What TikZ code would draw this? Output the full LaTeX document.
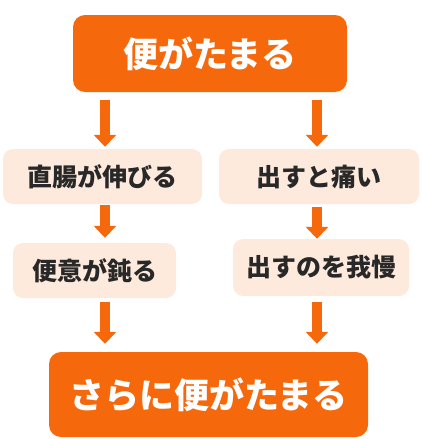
\documentclass[tikz,border=0pt]{standalone}
\usepackage{fontspec}
\newfontfamily\jpfont{Noto Sans CJK JP}[BoldFont={Noto Sans CJK JP Black}]
\usetikzlibrary{arrows.meta}
\definecolor{naranja}{RGB}{245,104,12}
\definecolor{melocoton}{RGB}{253,234,220}
\definecolor{tinta}{RGB}{40,40,40}

\begin{document}
\begin{tikzpicture}[x=1pt,y=-1pt,
  grande/.style={fill=naranja,rounded corners=12pt,text=white,font=\jpfont\bfseries\fontsize{35}{40}\selectfont,inner sep=0pt},
  paso/.style={fill=melocoton,rounded corners=10pt,text=tinta,font=\jpfont\bfseries\fontsize{25}{30}\selectfont,inner sep=0pt,minimum height=55pt},
  flecha/.style={naranja,line width=10pt,-{Triangle[width=22pt,length=12pt]}}
  ]
  \useasboundingbox (0,0) rectangle (421,439);

  \node[grande,minimum width=274pt,minimum height=77pt] (bt) at (210,53.5) {便がたまる};
  \node[paso,minimum width=199pt] (cr) at (102.5,176.5) {直腸が伸びる};
  \node[paso,minimum width=163pt] (ci) at (94.5,270.5) {便意が鈍る};
  \node[paso,minimum width=200pt] (dl) at (319,176.5) {出すと痛い};
  \node[paso,minimum width=176pt,minimum height=57pt] (gm) at (321,267.5) {出すのを我慢};
  \node[grande,minimum width=319pt,minimum height=85pt] (mas) at (208.5,394.5) {さらに便がたまる};

  \coordinate (izq) at (105,0);
  \coordinate (der) at (317,0);

  \draw[flecha,shorten <=8pt,shorten >=2pt] (bt.south -| izq) -- (cr.north -| izq);
  \draw[flecha,shorten <=1pt,shorten >=5pt] (cr.south -| izq) -- (ci.north -| izq);
  \draw[flecha,shorten <=4pt,shorten >=8pt] (ci.south -| izq) -- (mas.north -| izq);
  \draw[flecha,shorten <=8pt,shorten >=2pt] (bt.south -| der) -- (dl.north -| der);
  \draw[flecha,shorten <=3pt,shorten >=0pt] (dl.south -| der) -- (gm.north -| der);
  \draw[flecha,shorten <=6pt,shorten >=8pt] (gm.south -| der) -- (mas.north -| der);

\end{tikzpicture}
\end{document}
